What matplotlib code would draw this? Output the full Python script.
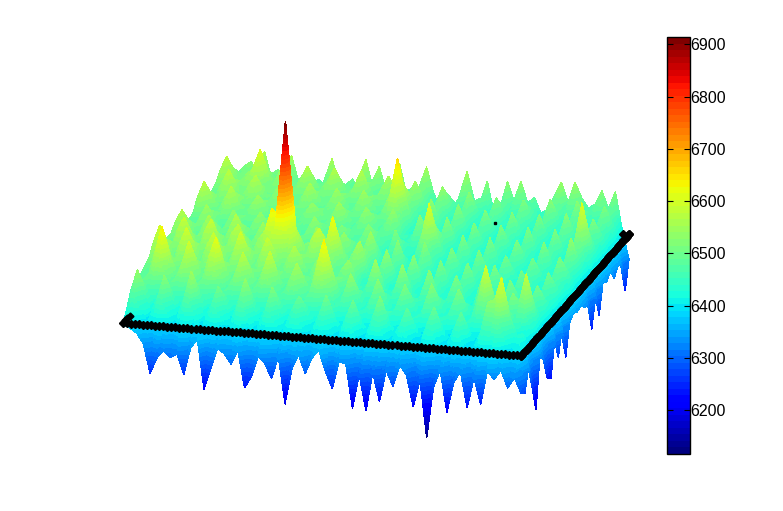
import numpy as np
import matplotlib
matplotlib.use("Agg")
import matplotlib.pyplot as plt
from matplotlib.cm import ScalarMappable
from matplotlib.colors import Normalize
from mpl_toolkits.mplot3d.art3d import Poly3DCollection

plt.rcParams['font.family'] = ['Liberation Sans', 'DejaVu Sans']

# heights above 6000, front row first, left to right
z_rows = [
    [395,385,372,340,250,300,325,305,318,255, 340,368,215,282,345,330,300,345,230,265, 330,310,265,335,190,300,345,290,340,365, 300,250,335,330,194,300,190,310,222,320, 272,340,310,215,300,122,280,335,206,300, 335,225,320,238,345,319,350,297,330,284],
    [430,470,430,390,420,460,420,390,430,470, 430,390,420,450,420,390,430,470,420,390, 420,450,420,390,420,440,410,390,420,440, 410,380,420,440,400,380,420,450,410,390, 410,430,400,370,420,440,400,380,410,430, 400,380,410,450,450,480,430,400,410,270],
    [470,540,470,410,460,530,460,400,470,550, 470,410,450,510,450,400,470,540,460,410, 450,520,450,400,460,500,440,400,450,510, 440,390,450,500,430,390,460,520,440,400, 440,490,430,380,450,500,430,390,440,490, 420,390,440,530,540,610,500,430,440,340],
    [460,490,460,430,450,480,450,430,460,490, 460,430,450,470,450,430,460,480,450,430, 450,470,450,430,450,460,440,420,440,460, 420,400,420,450,410,400,430,460,420,400, 420,440,410,390,430,450,410,390,420,440, 410,390,420,470,470,510,450,410,420,260],
    [490,460,510,540,510,470,510,530,510,460, 510,540,510,460,500,520,500,460,500,520, 490,450,490,510,480,450,510,540,510,450, 460,470,450,420,450,470,450,420,450,460, 440,410,450,470,440,420,450,460,430,420, 460,510,460,420,450,460,450,490,440,180],
    [490,450,560,640,550,470,530,600,530,460, 560,620,540,460,520,580,520,460,530,590, 520,450,510,560,510,450,560,640,550,460, 470,540,470,420,470,530,460,420,460,520, 460,410,460,530,460,420,460,520,450,420, 510,600,500,430,460,520,500,585,470,330],
    [500,470,520,550,520,480,510,530,510,470, 520,540,510,470,500,520,500,470,500,520, 490,460,490,510,480,460,510,540,510,460, 470,480,460,430,460,480,450,430,450,470, 450,420,460,480,450,430,460,470,440,420, 470,520,470,430,460,470,460,500,450,310],
    [510,540,510,470,510,540,510,470,510,530, 510,470,510,540,510,470,500,530,500,470, 500,520,490,460,490,510,480,460,480,500, 460,430,460,480,450,430,450,470,450,420, 450,470,440,420,450,460,440,420,440,470, 430,420,440,460,430,420,440,450,430,240],
    [540,600,540,470,550,600,540,470,550,590, 540,480,540,600,540,470,540,590,530,470, 530,570,520,460,520,550,510,460,510,540, 470,430,480,550,460,430,470,540,460,420, 460,530,450,420,460,520,440,420,450,530, 450,420,450,520,450,420,440,510,440,225],
    [520,550,520,480,520,550,520,480,520,540, 520,480,520,550,520,480,510,540,520,480, 510,530,500,470,500,510,490,470,490,510, 450,440,450,490,440,440,440,480,440,430, 440,480,430,430,440,470,430,430,430,480, 440,430,430,470,440,430,430,460,440,330],
    [500,470,520,540,510,470,520,540,510,480, 520,540,510,480,510,530,560,590,610,580, 510,480,520,540,510,550,500,470,490,520, 440,440,450,480,430,430,440,470,430,430, 430,470,440,420,440,470,440,420,430,470, 430,430,430,460,430,420,430,460,430,265],
    [520,480,550,590,540,480,550,590,530,490, 550,580,530,490,540,570,640,610,914,600, 540,490,560,590,540,630,530,470,520,560, 470,440,480,540,450,430,470,530,440,430, 450,520,450,420,460,520,450,420,450,520, 440,430,450,510,440,420,450,510,440,340],
    [510,480,520,540,510,480,520,540,510,490, 530,540,510,490,510,530,570,590,620,570, 520,490,530,540,520,560,510,480,500,520, 450,450,460,490,440,440,450,480,430,440, 440,480,430,430,450,480,430,430,440,480, 440,440,440,470,440,430,440,470,440,240],
    [510,530,510,470,500,530,500,470,510,530, 500,470,500,520,490,470,490,510,500,470, 490,520,490,460,490,510,480,460,480,510, 440,430,440,480,430,430,430,480,430,420, 440,470,440,420,430,470,440,420,440,460, 440,420,440,460,440,420,440,470,440,330],
    [530,570,520,470,520,560,510,470,520,570, 510,470,510,550,500,470,500,530,510,470, 500,550,500,460,500,540,490,460,490,550, 460,430,460,530,450,430,450,530,450,420, 440,520,440,420,450,520,450,420,440,510, 450,420,440,510,450,420,440,520,460,350],
    [510,530,510,470,510,530,500,470,510,530, 500,470,500,520,490,470,490,510,500,470, 490,520,490,460,490,510,480,460,480,510, 440,430,440,480,430,430,430,480,430,430, 440,470,440,430,430,470,440,430,440,460, 440,430,440,460,440,430,440,470,450,340],
    [480,460,500,520,490,460,490,510,480,460, 500,510,480,460,490,500,480,460,490,510, 480,460,480,500,470,460,480,500,470,450, 430,470,430,430,430,480,530,470,430,430, 430,470,440,420,430,470,440,420,440,470, 430,420,430,470,440,430,430,490,430,345],
    [490,450,510,550,500,460,500,540,490,460, 510,540,490,460,500,530,490,460,500,540, 490,460,490,520,480,460,490,530,480,450, 450,520,450,430,450,520,610,510,440,430, 450,520,450,420,450,520,450,420,460,520, 440,420,450,520,450,430,450,540,440,330],
    [490,470,500,520,490,470,490,510,480,470, 500,510,480,470,490,500,480,470,490,510, 480,470,480,500,480,470,480,500,480,460, 440,480,440,440,440,490,540,480,440,440, 440,480,430,430,440,480,430,430,450,480, 440,430,440,480,430,440,440,500,440,320],
    [500,530,500,480,500,530,500,480,500,510, 490,470,490,510,490,480,490,500,490,480, 490,510,480,470,480,500,480,470,480,500, 440,440,450,480,430,440,440,480,430,430, 430,470,430,430,430,470,430,430,430,470, 440,430,430,470,440,430,450,520,450,236],
    [530,580,530,480,530,570,520,480,520,550, 510,470,520,550,510,480,510,540,510,480, 510,550,500,470,500,540,490,470,500,540, 460,440,470,530,450,440,460,530,450,430, 450,520,440,430,450,520,440,430,450,520, 440,430,450,520,440,430,480,610,480,320],
    [510,540,510,490,510,540,500,490,500,520, 500,480,500,520,500,490,500,510,500,490, 500,520,490,480,490,510,490,480,490,510, 450,450,460,490,440,450,450,490,440,440, 440,480,440,440,440,480,440,440,440,480, 430,440,440,480,430,440,460,530,460,253],
    [490,480,510,530,500,490,510,530,500,490, 510,520,490,480,500,520,490,480,500,510, 490,470,490,510,490,470,490,510,570,500, 440,440,450,490,440,440,450,480,430,430, 440,470,430,430,440,470,430,430,440,470, 440,430,440,480,430,430,440,470,440,340],
    [500,470,540,580,520,490,540,570,510,490, 530,560,510,480,520,560,510,480,510,550, 500,470,510,550,500,470,500,550,660,540, 450,430,470,540,450,430,460,530,440,430, 450,520,440,430,450,520,440,430,450,520, 430,430,460,530,440,430,450,520,450,330],
    [500,490,510,540,510,500,510,530,500,500, 510,520,500,490,510,520,500,490,510,520, 490,480,500,520,490,480,490,520,580,500, 450,450,460,500,450,450,460,490,440,440, 450,480,440,440,450,480,440,440,450,480, 430,440,450,490,440,440,450,480,450,350],
    [510,540,510,500,520,540,560,510,500,520, 500,490,510,520,500,500,510,520,500,490, 510,520,500,490,510,520,490,480,500,510, 460,450,470,500,450,450,460,490,440,440, 450,480,440,440,450,480,440,440,450,490, 440,440,450,480,440,440,450,480,440,314],
    [530,580,520,500,530,550,610,530,500,550, 510,490,530,570,510,490,530,570,510,490, 520,570,500,490,510,560,500,480,510,550, 480,450,480,540,460,450,470,530,450,440, 460,520,450,440,460,520,450,440,460,530, 450,440,470,530,450,440,460,520,450,340],
    [510,540,510,500,520,530,550,510,500,520, 500,490,510,520,500,490,510,520,500,490, 510,520,490,480,500,510,490,480,490,510, 470,450,470,510,460,450,460,490,450,440, 450,490,450,440,460,490,450,440,460,490, 450,440,460,490,450,440,460,490,440,330],
    [500,490,500,510,500,530,500,500,490,510, 490,490,480,490,480,500,490,480,490,480, 520,490,510,480,490,520,480,480,480,510, 470,430,470,440,460,510,460,440,490,430, 430,490,460,490,460,470,450,450,480,500, 460,500,480,460,470,490,460,490,420,237],
    [484,470,512,528,490,562,480,510,470,556, 480,500,450,490,470,558,480,450,500,460, 565,480,545,470,500,560,470,490,460,556, 480,430,480,420,470,553,470,440,528,430, 410,531,470,535,470,490,440,456,500,544, 480,547,500,470,484,528,470,528,412,322],
]
z_offset = 6000
z_base = 6400
z_min = 6116
z_max = 6914
cbar_ticks = [6200, 6300, 6400, 6500, 6600, 6700, 6800, 6900]
n_colors = 64

Z = np.array(z_rows, dtype=float) + z_offset
ny, nx = Z.shape
xs = np.linspace(0, 1, nx)
ys = np.linspace(0, 1, ny)
edges = np.linspace(z_min, z_max, n_colors + 1)
cmap = plt.get_cmap('jet', n_colors)


def clip_z(poly, level, keep_above):
    # cut a polygon at a z level, keep one side of it
    out = []
    for i in range(len(poly)):
        a = poly[i]
        b = poly[(i + 1) % len(poly)]
        a_in = a[2] >= level if keep_above else a[2] <= level
        b_in = b[2] >= level if keep_above else b[2] <= level
        if a_in:
            out.append(a)
        if a_in != b_in:
            t = (level - a[2]) / (b[2] - a[2])
            out.append((a[0] + t * (b[0] - a[0]), a[1] + t * (b[1] - a[1]), level))
    return out


# interp style shading: each facet is cut into the colormap's z bands
polys = []
colors = []
for j in range(ny - 1):
    for i in range(nx - 1):
        p00 = (xs[i], ys[j], Z[j, i])
        p10 = (xs[i + 1], ys[j], Z[j, i + 1])
        p01 = (xs[i], ys[j + 1], Z[j + 1, i])
        p11 = (xs[i + 1], ys[j + 1], Z[j + 1, i + 1])
        for tri in ([p00, p10, p11], [p00, p11, p01]):
            zz = [p[2] for p in tri]
            k0 = max(np.searchsorted(edges, min(zz), side='right') - 1, 0)
            k1 = min(np.searchsorted(edges, max(zz), side='left'), n_colors)
            for k in range(k0, k1):
                piece = clip_z(tri, edges[k], True)
                if len(piece) > 2:
                    piece = clip_z(piece, edges[k + 1], False)
                if len(piece) > 2:
                    polys.append(piece)
                    colors.append(cmap(k))

fig = plt.figure(figsize=(7.83, 5.11), dpi=100)
ax = fig.add_axes([52 / 783, -51.3 / 511, 631 / 783, 631 / 511], projection='3d')
ax.set_proj_type('ortho')
ax.computed_zorder = False
ax.view_init(elev=17.8, azim=-74.85)
ax.set_box_aspect((1, 1, 0.6966))
ax.set_xlim(0, 1)
ax.set_ylim(0, 1)
ax.set_zlim(6100, 6950)
ax.set_axis_off()
ax.patch.set_alpha(0)

surf = Poly3DCollection(polys, facecolors=colors, edgecolors=colors, linewidths=0.3, antialiased=False, zorder=1)
ax.add_collection3d(surf)

# black marker line along the front and right edges
n_mark = 100
t = np.linspace(0, 1, n_mark)
base = np.full(n_mark, z_base)
ax.plot(t, np.zeros(n_mark), base, ls='none', marker='D', ms=4, color='k', zorder=5)
ax.plot(np.ones(n_mark), t, base, ls='none', marker='D', ms=4, color='k', zorder=5)
ax.plot([0, 0, 0, 0], [0, 0.02, 0.04, 0.06], [z_base] * 4, ls='none', marker='D', ms=3.5, color='k', zorder=5)
ax.plot([0.985, 1], [1, 1], [z_base] * 2, ls='none', marker='D', ms=4, color='k', zorder=5)
ax.plot([0.663], [1], [z_base], ls='none', marker='s', ms=2, color='k', zorder=5)

# colorbar
cax = fig.add_axes([667 / 783, (511 - 454) / 511, 23 / 783, 417 / 511])
sm = ScalarMappable(norm=Normalize(z_min, z_max), cmap=cmap)
cb = fig.colorbar(sm, cax=cax, ticks=cbar_ticks)
cb.ax.minorticks_off()
cb.ax.tick_params(axis='y', direction='in', left=True, right=True, length=4, width=0.8, labelsize=11.5, pad=0)
cb.outline.set_linewidth(1)
cb.solids.set_antialiased(False)

fig.savefig('out.png', dpi=100)
